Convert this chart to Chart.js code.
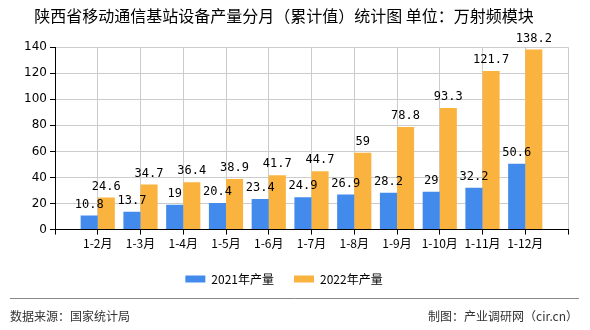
<!DOCTYPE html>
<html>
<head>
<meta charset="utf-8">
<script src="https://cdn.jsdelivr.net/npm/chart.js@4"></script>
<style>
  html, body { margin: 0; padding: 0; background: #fff; }
  #wrap { width: 590px; height: 330px; }
</style>
</head>
<body>
<div id="wrap"><canvas id="prodChart" width="590" height="330"></canvas></div>
<script>
const months = ['1-2月', '1-3月', '1-4月', '1-5月', '1-6月', '1-7月', '1-8月', '1-9月', '1-10月', '1-11月', '1-12月'];
const output2021 = [10.8, 13.7, 19, 20.4, 23.4, 24.9, 26.9, 28.2, 29, 32.2, 50.6];
const output2022 = [24.6, 34.7, 36.4, 38.9, 41.7, 44.7, 59, 78.8, 93.3, 121.7, 138.2];
const yTicks = [0, 20, 40, 60, 80, 100, 120, 140];

const cjk = '"Noto Sans CJK SC", "DejaVu Sans", sans-serif';

// the original axis leaves one empty slot at each end
const pad = function(arr, v) { return [v].concat(arr, [v]); };

// value labels above each bar
const barLabels = {
    id: 'barLabels',
    afterDatasetsDraw(chart) {
        const ctx = chart.ctx;
        ctx.save();
        ctx.font = '12px "DejaVu Sans Mono", monospace';
        ctx.fillStyle = '#000';
        ctx.textAlign = 'center';
        ctx.textBaseline = 'bottom';
        chart.data.datasets.forEach(function(ds, i) {
            chart.getDatasetMeta(i).data.forEach(function(bar, j) {
                if (ds.data[j] == null) return;
                ctx.fillText(String(ds.data[j]), bar.x, bar.y - 5);
            });
        });
        ctx.restore();
    }
};

// footer rule and source texts
const footer = {
    id: 'footer',
    afterDraw(chart) {
        const ctx = chart.ctx;
        ctx.save();
        ctx.strokeStyle = '#888';
        ctx.lineWidth = 1;
        ctx.beginPath();
        ctx.moveTo(10, 298.5);
        ctx.lineTo(579, 298.5);
        ctx.stroke();

        ctx.font = '12px ' + cjk;
        ctx.fillStyle = '#333';
        ctx.textBaseline = 'middle';
        ctx.textAlign = 'left';
        ctx.fillText('数据来源：国家统计局', 10, 316);
        ctx.textAlign = 'right';
        ctx.fillText('制图：产业调研网（cir.cn）', 578, 316);
        ctx.restore();
    }
};

new Chart(document.getElementById('prodChart').getContext('2d'), {
    type: 'bar',
    data: {
        labels: pad(months, ''),
        datasets: [
            { label: '2021年产量', data: pad(output2021, null), backgroundColor: '#428bec' },
            { label: '2022年产量', data: pad(output2022, null), backgroundColor: '#fbb33f' }
        ]
    },
    options: {
        responsive: false,
        animation: false,
        layout: { padding: { left: 0, right: 22, top: 0, bottom: 35 } },
        datasets: { bar: { categoryPercentage: 0.8, barPercentage: 1 } },
        scales: {
            x: {
                offset: false,
                grid: { offset: false, color: '#cccccc', tickColor: '#000', tickLength: 5 },
                border: { color: '#000' },
                ticks: { color: '#000', font: { size: 12, family: cjk }, padding: 2, autoSkip: false, maxRotation: 0 }
            },
            y: {
                min: 0,
                max: 140,
                afterBuildTicks: function(axis) {
                    axis.ticks = yTicks.map(function(v) { return { value: v }; });
                },
                afterFit: function(axis) { axis.width = 55; },
                grid: { color: '#cccccc', tickColor: '#000', tickLength: 5 },
                border: { color: '#000' },
                ticks: { color: '#000', font: { size: 12, family: '"DejaVu Sans", sans-serif' }, padding: 3 }
            }
        },
        plugins: {
            title: {
                display: true,
                text: '陕西省移动通信基站设备产量分月（累计值）统计图 单位：万射频模块',
                color: '#000',
                font: { size: 16, family: cjk, weight: 'normal' },
                padding: { top: 6, bottom: 22 }
            },
            legend: {
                position: 'bottom',
                labels: {
                    color: '#000',
                    boxWidth: 20,
                    boxHeight: 7,
                    padding: 20,
                    font: { size: 12, family: cjk }
                }
            },
            tooltip: { enabled: false }
        }
    },
    plugins: [barLabels, footer]
});
</script>
</body>
</html>
